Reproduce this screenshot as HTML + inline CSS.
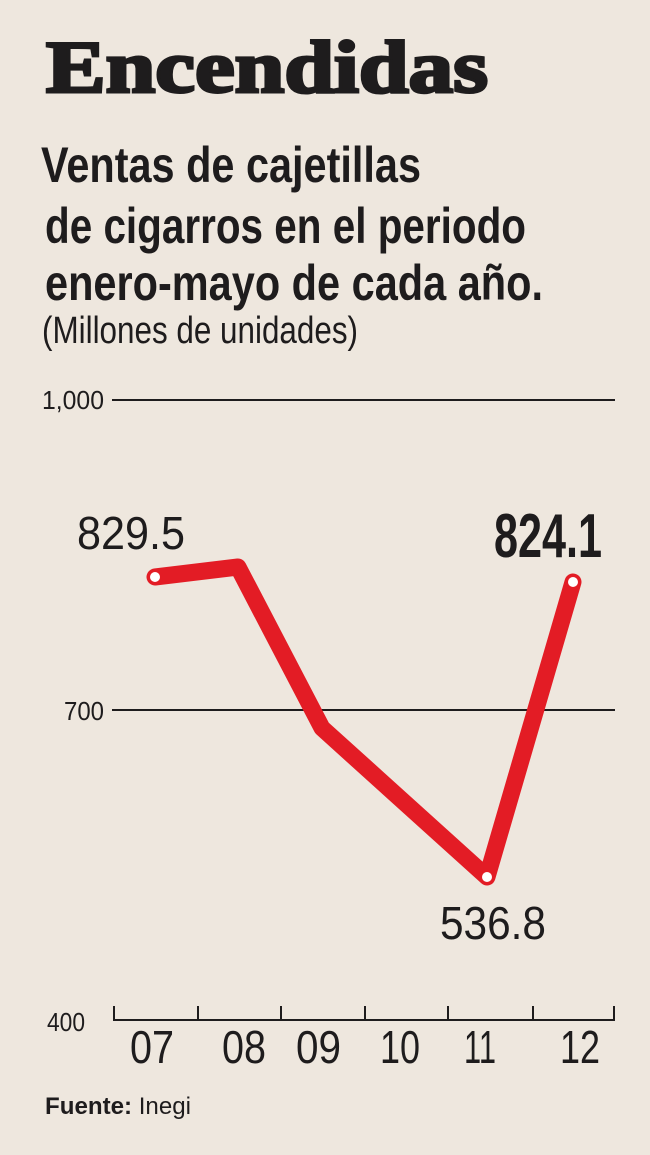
<!DOCTYPE html>
<html><head><meta charset="utf-8"><style>
html,body{margin:0;padding:0;background:#eee7de;}
svg{display:block}
</style></head><body>
<svg width="650" height="1155" viewBox="0 0 650 1155" xmlns="http://www.w3.org/2000/svg">
<rect width="650" height="1155" fill="#eee7de"/>
<g fill="#1e1c1d">
<text x="46" y="92" font-family="Liberation Serif, serif" font-weight="bold" font-size="74" stroke="#1e1c1d" stroke-width="3" textLength="442" lengthAdjust="spacingAndGlyphs">Encendidas</text>
<g font-family="Liberation Sans, sans-serif" font-weight="bold" font-size="50">
<text x="41" y="182" textLength="380" lengthAdjust="spacingAndGlyphs">Ventas de cajetillas</text>
<text x="45" y="243" textLength="481" lengthAdjust="spacingAndGlyphs">de cigarros en el periodo</text>
<text x="45" y="300" textLength="498" lengthAdjust="spacingAndGlyphs">enero-mayo de cada año.</text>
</g>
<text x="42" y="343" font-family="Liberation Sans, sans-serif" font-size="38" textLength="316" lengthAdjust="spacingAndGlyphs">(Millones de unidades)</text>
<g font-family="Liberation Sans, sans-serif" font-size="26">
<text x="42" y="409" textLength="62" lengthAdjust="spacingAndGlyphs">1,000</text>
<text x="64" y="720" textLength="40" lengthAdjust="spacingAndGlyphs">700</text>
<text x="47" y="1031" textLength="38" lengthAdjust="spacingAndGlyphs">400</text>
</g>
</g>
<g stroke="#1e1c1d" stroke-width="2" fill="none">
<line x1="112" y1="400" x2="615" y2="400"/>
<line x1="112" y1="710" x2="615" y2="710"/>
<line x1="113" y1="1020" x2="615" y2="1020"/>
<path d="M114 1006V1020M198 1006V1020M281 1006V1020M365 1006V1020M448 1006V1020M533 1006V1020M614 1006V1020"/>
</g>
<g fill="#1e1c1d" font-family="Liberation Sans, sans-serif" font-size="46">
<text x="130" y="1063" textLength="44" lengthAdjust="spacingAndGlyphs">07</text>
<text x="222" y="1063" textLength="44" lengthAdjust="spacingAndGlyphs">08</text>
<text x="296" y="1063" textLength="45" lengthAdjust="spacingAndGlyphs">09</text>
<text x="380" y="1063" textLength="40" lengthAdjust="spacingAndGlyphs">10</text>
<text x="464" y="1063" textLength="32" lengthAdjust="spacingAndGlyphs">11</text>
<text x="560" y="1063" textLength="40" lengthAdjust="spacingAndGlyphs">12</text>
<text x="77" y="549" textLength="108" lengthAdjust="spacingAndGlyphs">829.5</text>
<text x="440" y="939" textLength="106" lengthAdjust="spacingAndGlyphs">536.8</text>
<text x="494" y="557" font-weight="bold" font-size="62" textLength="108" lengthAdjust="spacingAndGlyphs">824.1</text>
</g>
<text x="45" y="1114" fill="#1e1c1d" font-family="Liberation Sans, sans-serif" font-size="24" textLength="146" lengthAdjust="spacingAndGlyphs"><tspan font-weight="bold">Fuente:</tspan> Inegi</text>
<polyline points="155,577 238,567 322,728 487,877 573,582" fill="none" stroke="#e31c25" stroke-width="17" stroke-linejoin="round" stroke-linecap="round"/>
<g fill="#fff">
<circle cx="155" cy="577" r="5"/>
<circle cx="487" cy="877" r="5"/>
<circle cx="573" cy="582" r="5"/>
</g>
</svg>
</body></html>
